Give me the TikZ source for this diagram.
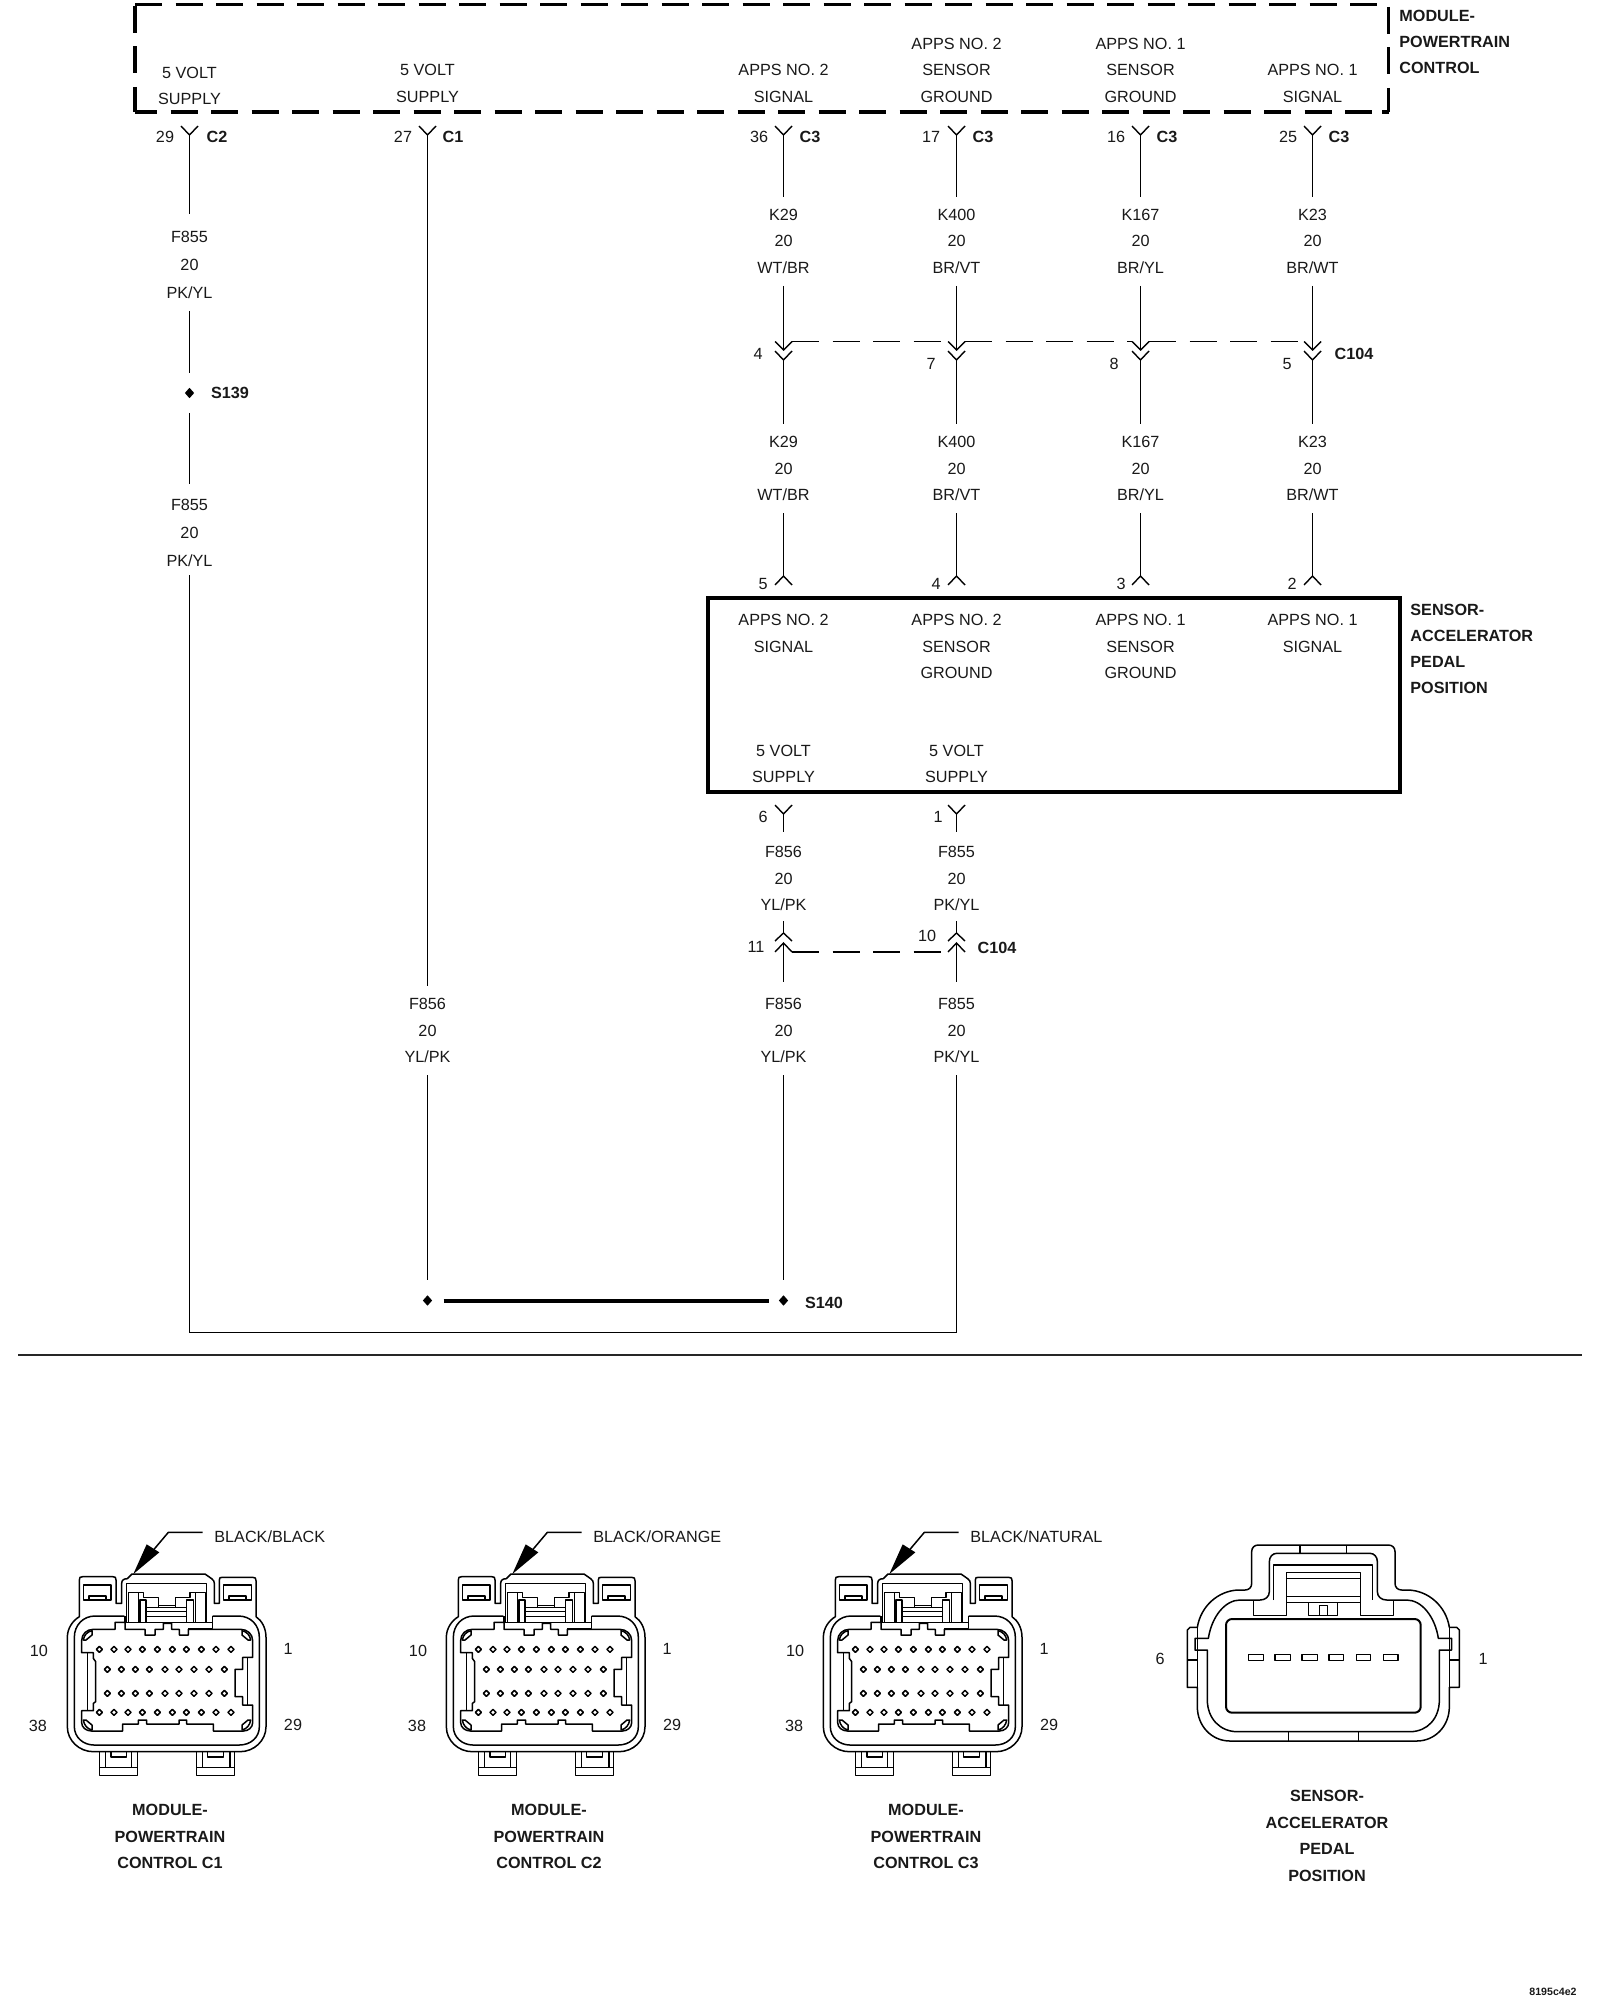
\documentclass[tikz,border=0pt]{standalone}
\usepackage{fontspec}
\setmainfont{Liberation Sans}
\usetikzlibrary{calc,shapes.geometric}
\tikzset{
  wire/.style={line width=0.7pt,black},
  conline/.style={line width=0.75pt,black},
  heavy/.style={line width=1.8pt,black},
  modbox/.style={line width=1.7pt,black,dash pattern=on 13.5pt off 6.75pt},
  cdash/.style={line width=0.75pt,black,dash pattern=on 13.5pt off 6.75pt},
  txt/.style={font=\fontsize{8.1}{13.25}\selectfont,inner sep=0pt,align=center,text=black!90,yshift=-0.4pt},
  lab/.style={txt,inner xsep=2pt,inner ysep=6pt},
  labwide/.style={lab,font=\fontsize{8.1}{14}\selectfont},
  boldl/.style={font=\fontsize{8.1}{13}\selectfont\bfseries,inner sep=0pt,align=left,anchor=west,text=black!90},
  boldc/.style={font=\fontsize{8.1}{13.25}\selectfont\bfseries,inner sep=0pt,align=center,text=black!90},
  dotn/.style={diamond,fill=black,inner sep=0pt,minimum width=4.8pt,minimum height=5.4pt},
}
% top Y pin: coordinate name, x, y of the junction
\newcommand\ypin[3]{%
  \coordinate (#1) at (#2,#3);
  \draw[wire] (#2-8.5,#3-9) -- (#1) -- (#2+8.5,#3-9);}
% pin that opens upward (hat): tip at y
\newcommand\hatpin[3]{%
  \coordinate (#1) at (#2,#3);
  \draw[wire] (#2-8.5,#3+9) -- (#1) -- (#2+8.5,#3+9);}
% one APPS column
\newcommand\appscol[4]{%
  \ypin{#1-t}{#2}{135}
  \node[lab] (#1-a) at (#2,240.5) {#3\\20\\#4};
  \draw[wire] (#1-t) -- (#1-a.north);
  \coordinate (#1-u) at (#2,350);
  \coordinate (#1-ul) at (#2-8.5,341.5);
  \coordinate (#1-ur) at (#2+8.5,341.5);
  \draw[wire] (#1-ul) -- (#1-u) -- (#1-ur);
  \draw[wire] (#1-a.south) -- (#1-u);
  \ypin{#1-l}{#2}{360}
  \node[lab] (#1-b) at (#2,468) {#3\\20\\#4};
  \draw[wire] (#1-l) -- (#1-b.north);
  \hatpin{#1-p}{#2}{576}
  \draw[wire] (#1-b.south) -- (#1-p);}
% PCM connector in 3x zoom coordinates
\newcommand\pcmconn[1]{%
\begin{scope}[shift={(#1,1500)},x=0.16667pt,y=-0.16667pt,conline,line join=round]
  % outer body with tabs and latch
  \draw (148,240) .. controls (148,232) and (150,230) .. (158,230) -- (248,230)
    .. controls (256,230) and (258,232) .. (258,240) -- (258,310) -- (275,310) -- (275,250)
    .. controls (275,240) and (282,236) .. (292,236) -- (306,222) -- (525,222) -- (545,236)
    .. controls (551,240) and (553,245) .. (553,250) -- (553,310) -- (568,310) -- (568,240)
    .. controls (568,232) and (570,232) .. (578,232) -- (668,232)
    .. controls (676,232) and (678,234) .. (678,242) -- (678,350)
    .. controls (696,362) and (708,385) .. (708,412) -- (708,680)
    .. controls (708,722) and (672,755) .. (630,755) -- (190,755)
    .. controls (148,755) and (112,722) .. (112,680) -- (112,412)
    .. controls (112,385) and (128,362) .. (148,350) -- cycle;
  % inner body ring
  \draw (283,348) -- (195,348) .. controls (160,348) and (133,375) .. (133,412) -- (133,680)
    .. controls (133,712) and (160,735) .. (192,735) -- (628,735)
    .. controls (662,735) and (688,712) .. (688,680) -- (688,412)
    .. controls (688,375) and (662,348) .. (625,348) -- (548,348);
  % cavity
  \draw (155,422) .. controls (155,402) and (170,388) .. (190,388) -- (255,388) -- (255,367) -- (285,367) -- (285,388)
    -- (345,388) -- (345,405) -- (375,405) -- (375,388) -- (400,388) -- (400,370) -- (425,370) -- (425,388)
    -- (448,388) -- (448,405) -- (475,405) -- (475,388) -- (632,388)
    .. controls (652,388) and (668,402) .. (668,422) -- (668,472) -- (638,472) -- (638,508) -- (615,508)
    -- (615,590) -- (638,590) -- (638,615) -- (668,615) -- (668,668)
    .. controls (668,682) and (655,693) .. (640,693) -- (550,693) -- (550,672) -- (470,672) -- (470,660)
    -- (447,660) -- (447,672) -- (350,672) -- (350,660) -- (325,660) -- (325,672) -- (278,672) -- (278,693)
    -- (185,693) .. controls (168,693) and (155,682) .. (155,668) -- (155,632) -- (190,632) -- (190,610)
    -- (197,605) -- (197,485) -- (190,475) -- (190,458) -- (155,458) -- cycle;
  \draw (172,458) -- (172,632);
  \draw (652,472) -- (652,615);
  \draw (285,367) -- (548,367) -- (548,348);
  \draw (285,367) -- (285,348);
  \draw (475,385) -- (548,385) -- (548,367);
  % corner keys
  \draw (160,420) .. controls (162,405) and (172,395) .. (186,392) -- (186,405) -- (168,420) -- cycle;
  \draw (662,420) .. controls (660,405) and (650,395) .. (636,392) -- (636,405) -- (654,420) -- cycle;
  \draw (160,660) .. controls (162,675) and (172,687) .. (186,690) -- (186,675) -- (168,660) -- cycle;
  \draw (662,660) .. controls (660,675) and (650,687) .. (636,690) -- (636,675) -- (654,660) -- cycle;
  % latch interior
  \draw (289,367) -- (289,250) -- (530,250) -- (530,367);
  \draw (295,367) -- (295,278) -- (325,278) -- (325,367);
  \draw (325,278) -- (340,278) -- (340,293) -- (385,293) -- (385,323) -- (437,323) -- (437,293) -- (480,293) -- (480,278) -- (497,278);
  \draw (497,367) -- (497,278) -- (527,278) -- (527,367);
  \draw (385,317) -- (437,317);
  \draw (330,367) -- (330,300) -- (348,300) -- (348,367);
  \draw (470,367) -- (470,300) -- (490,300) -- (490,367);
  \draw (348,322) -- (470,322);
  \draw (348,335) -- (470,335);
  \draw (348,350) -- (470,350);
  % upper tabs
  \draw (160,300) -- (160,255) -- (243,255) -- (243,300) -- cycle;
  \draw (177,300) -- (177,288) -- (228,288) -- (228,300);
  \draw (580,300) -- (580,255) -- (665,255) -- (665,300) -- cycle;
  \draw (597,300) -- (597,288) -- (648,288) -- (648,300);
  % lower tabs
  \draw (208,755) -- (208,826) -- (322,826) -- (322,755);
  \draw (208,802) -- (322,802);
  \draw (226,755) -- (226,802);
  \draw (305,755) -- (305,802);
  \draw (243,755) -- (243,771) -- (290,771) -- (290,755);
  \draw (500,755) -- (500,826) -- (614,826) -- (614,755);
  \draw (500,802) -- (614,802);
  \draw (517,755) -- (517,802);
  \draw (600,755) -- (600,802);
  \draw (532,755) -- (532,771) -- (580,771) -- (580,755);
  % terminals
  \foreach \py in {448,637}
    \foreach \px in {208,252,294,337,382,427,469,514,558,603}
      \draw (\px-9,\py) -- (\px,\py-9) -- (\px+9,\py) -- (\px,\py+9) -- cycle;
  \foreach \py in {508,580}
    \foreach \px in {232,274,316,358,405,447,492,537,583}
      \draw (\px-9,\py) -- (\px,\py-9) -- (\px+9,\py) -- (\px,\py+9) -- cycle;
  % leader with arrow
  \draw (518,97) -- (415,97) -- (345,180);
  \fill[black] (310,222) -- (350,133) -- (388,157) -- cycle;
\end{scope}}
\begin{document}
\begin{tikzpicture}[x=0.5pt,y=-0.5pt]
\useasboundingbox (0,0) rectangle (1600,2000);
\def\cA{189.5}\def\cB{427.5}\def\cC{783.5}\def\cD{956.5}\def\cE{1140.5}\def\cF{1312.5}
% ---- module box (dashed)
\coordinate (mtl) at (135,4.5);
\coordinate (mtr) at (1388.5,4.5);
\coordinate (mbl) at (135,112);
\coordinate (mbr) at (1388.5,112);
\draw[modbox] (mtl) -- (1380,4.5);
\draw[modbox,dash phase=19.5pt] (mtl) -- (mbl);
\draw[modbox,dash phase=2.5pt] (mbl) -- (1376,112);
\draw[modbox] (1388.5,7) -- (mbr);
\draw[heavy,line width=1.7pt] (1382,112) -- (mbr);
% ---- module texts
\node[txt] (t5a) at (\cA,85) {5 VOLT\\SUPPLY};
\node[txt] (t5b) at (\cB,82.5) {5 VOLT\\SUPPLY};
\node[txt] (t2s) at (\cC,82.5) {APPS NO. 2\\SIGNAL};
\node[txt] (t2g) at (\cD,69.5) {APPS NO. 2\\SENSOR\\GROUND};
\node[txt] (t1g) at (\cE,69.5) {APPS NO. 1\\SENSOR\\GROUND};
\node[txt] (t1s) at (\cF,82.5) {APPS NO. 1\\SIGNAL};
\node[boldl] (tmod) at (1399,41.7) {MODULE-\\POWERTRAIN\\CONTROL};
% ---- APPS columns
\appscol{a}{\cC}{K29}{WT/BR}
\appscol{b}{\cD}{K400}{BR/VT}
\appscol{c}{\cE}{K167}{BR/YL}
\appscol{d}{\cF}{K23}{BR/WT}
\draw[cdash] (a-ur) -- (b-ul);
\draw[cdash] (b-ur) -- (c-ul);
\draw[cdash] (c-ur) -- (d-ul);
% pin numbers, upper
\foreach \nm/\px/\py/\tx in {n29/165/136/29,n27/403/136/27,n36/759/136/36,n17/931/136/17,n16/1116/136/16,n25/1288/136/25,
  m4/758/353/4,m7/931/363/7,m8/1114/363/8,m5/1287/363/5,
  q5/763/583/5,q4/936/583/4,q3/1121/583/3,q2/1292/583/2,
  r6/763/816/6,r1/938/816/1,r11/756/946/11,r10/927/935/10}
  \node[txt] (\nm) at (\px,\py) {\tx};
\foreach \nm/\px/\py/\tx in {k2/217/137/C2,k1/453/137/C1,k3a/810/137/C3,k3b/983/137/C3,k3c/1167/137/C3,k3d/1339/137/C3,
  kc1/1354/354/C104,kc2/997/948/C104,ks1/230/393/S139,ks2/824/1303/S140}
  \node[boldc] (\nm) at (\px,\py) {\tx};
% ---- sensor box
\node[draw=black,line width=1.9pt,inner sep=0pt,minimum width=346pt,minimum height=97pt] (sbox) at (1054,695) {};
\node[txt] (s2s) at (\cC,632.5) {APPS NO. 2\\SIGNAL};
\node[txt] (s2g) at (\cD,646) {APPS NO. 2\\SENSOR\\GROUND};
\node[txt] (s1g) at (\cE,646) {APPS NO. 1\\SENSOR\\GROUND};
\node[txt] (s1s) at (\cF,632.5) {APPS NO. 1\\SIGNAL};
\node[txt] (s5a) at (\cC,763) {5 VOLT\\SUPPLY};
\node[txt] (s5b) at (\cD,763) {5 VOLT\\SUPPLY};
\node[boldl] (tsen) at (1410,648.5) {SENSOR-\\ACCELERATOR\\PEDAL\\POSITION};
% ---- left feeds
\ypin{e-t}{\cA}{135}
\node[labwide] (e-a) at (\cA,264) {F855\\20\\PK/YL};
\draw[wire,shorten >=2.5pt] (e-t) -- (e-a.north);
\node[dotn] (s139) at (\cA,393) {};
\draw[wire,shorten >=7pt] (e-a.south) -- (s139);
\node[labwide] (e-b) at (\cA,532.5) {F855\\20\\PK/YL};
\draw[wire,shorten <=7pt,shorten >=1.5pt] (s139) -- (e-b.north);
\ypin{f-t}{\cB}{135}
\node[lab] (f-a) at (\cB,1030) {F856\\20\\YL/PK};
\draw[wire] (f-t) -- (f-a.north);
% ---- lower sensor pins
\ypin{g-t}{\cC}{814}
\node[lab] (g-a) at (\cC,878) {F856\\20\\YL/PK};
\draw[wire] (g-t) -- (\cC,832);
\ypin{h-t}{\cD}{814}
\node[lab] (h-a) at (\cD,878) {F855\\20\\PK/YL};
\draw[wire] (h-t) -- (\cD,832);
% C104 lower pair
\foreach \n/\x in {g/\cC,h/\cD}{
  \coordinate (\n-up) at (\x,933);
  \draw[wire] (\x,921) -- (\n-up);
  \draw[wire] (\x-8.5,941) -- (\n-up) -- (\x+8.5,941);
  \coordinate (\n-lo) at (\x,943);
  \draw[wire] (\x-8.5,952) -- (\n-lo) -- (\x+8.5,952);
  \draw[wire] (\n-lo) -- (\x,982);
}
\coordinate (g-r) at (\cC+8.5,952);
\coordinate (h-r) at (\cD-8.5,952);
\draw[cdash] (g-r) -- (h-r);
\node[lab] (g-b) at (\cC,1030) {F856\\20\\YL/PK};
\node[lab] (h-b) at (\cD,1030) {F855\\20\\PK/YL};
% ---- splices and return
\node[dotn] (s140a) at (\cB,1300.5) {};
\node[dotn] (s140b) at (\cC,1300.5) {};
\draw[line width=2pt,shorten <=5.5pt,shorten >=4.5pt] (s140a) -- (s140b);
\draw[wire,shorten >=7.5pt] (f-a.south) -- (s140a);
\draw[wire,shorten >=7.5pt] (g-b.south) -- (s140b);
\coordinate (rl) at (\cA,1332.5);
\coordinate (rr) at (\cD,1332.5);
\draw[wire,shorten <=-2pt] (e-b.south) -- (rl) -- (rr) -- (h-b.south);
% ---- separator
\coordinate (sep1) at (18,1355);
\coordinate (sep2) at (1582,1355);
\draw[line width=1pt,black!85] (sep1) -- (sep2);
% ---- connector views
\pcmconn{30}
\pcmconn{409}
\pcmconn{786}
\foreach \nm/\dx/\tx in {x1/0/BLACK\slash BLACK,x2/379/BLACK\slash ORANGE,x3/756/BLACK\slash NATURAL}
  \node[txt,anchor=west] (\nm) at (214+\dx,1536) {\tx};
\foreach \nm/\dx in {v1/0,v2/379,v3/756}{
  \node[txt] (\nm a) at (39+\dx,1650) {10};
  \node[txt] (\nm b) at (288+\dx,1648) {1};
  \node[txt] (\nm c) at (38+\dx,1725) {38};
  \node[txt] (\nm d) at (293+\dx,1724) {29};
}
\node[boldc] (cap1) at (170,1836.5) {MODULE-\\POWERTRAIN\\CONTROL C1};
\node[boldc] (cap2) at (549,1836.5) {MODULE-\\POWERTRAIN\\CONTROL C2};
\node[boldc] (cap3) at (926,1836.5) {MODULE-\\POWERTRAIN\\CONTROL C3};
\node[boldc] (cap4) at (1327,1836) {SENSOR-\\ACCELERATOR\\PEDAL\\POSITION};
\node[txt] (p6) at (1160,1658) {6};
\node[txt] (p1) at (1483,1658) {1};
\node[font=\fontsize{5.3}{6}\selectfont\bfseries,inner sep=0pt,text=black!90] (code) at (1553,1992) {8195c4e2};
% ---- sensor connector view
\begin{scope}[shift={(1160,1520)},x=0.16667pt,y=-0.16667pt,conline,line join=round]
  \draw (275,95) .. controls (275,83) and (283,75) .. (295,75) -- (685,75)
    .. controls (697,75) and (705,83) .. (705,95) -- (705,190)
    .. controls (705,202) and (713,210) .. (725,210) -- (745,210)
    .. controls (805,212) and (858,258) .. (868,322) -- (890,322) -- (898,330) -- (898,502) -- (868,502)
    -- (868,560) .. controls (868,618) and (825,663) .. (770,663) -- (210,663)
    .. controls (155,663) and (112,618) .. (112,560) -- (112,502) -- (82,502) -- (82,330) -- (90,322) -- (112,322)
    .. controls (122,258) and (175,212) .. (235,210) -- (255,210)
    .. controls (267,210) and (275,202) .. (275,190) -- cycle;
  \draw (82,420) -- (112,420);
  \draw (868,420) -- (898,420);
  \draw (112,322) -- (112,502);
  \draw (868,322) -- (868,502);
  \draw (142,390) -- (142,540) .. controls (142,595) and (180,635) .. (232,635) -- (750,635)
    .. controls (802,635) and (838,595) .. (838,540) -- (838,390) -- (875,390) -- (875,355) -- (835,355)
    .. controls (825,290) and (785,240) .. (740,240) -- (680,240)
    .. controls (664,240) and (652,230) .. (652,215) -- (652,125)
    .. controls (652,110) and (642,100) .. (630,100) -- (350,100)
    .. controls (338,100) and (328,110) .. (328,125) -- (328,215)
    .. controls (328,230) and (316,240) .. (300,240) -- (240,240)
    .. controls (195,240) and (155,290) .. (145,355) -- (105,355) -- (105,390) -- cycle;
  \draw (420,75) -- (420,100);
  \draw (560,75) -- (560,100);
  \draw (385,635) -- (385,663);
  \draw (595,635) -- (595,663);
  \draw (340,240) -- (340,135) -- (638,135) -- (638,240);
  \draw (280,240) -- (280,287) -- (380,287) -- (380,158) -- (602,158) -- (602,287) -- (700,287) -- (700,240);
  \draw (380,175) -- (602,175);
  \draw (380,230) -- (602,230);
  \draw (380,247) -- (602,247);
  \draw (445,247) -- (445,287) -- (533,287) -- (533,247);
  \draw (478,287) -- (478,257) -- (502,257) -- (502,287);
  \draw[line width=1pt,rounded corners=3pt] (198,297) rectangle (782,578);
  \foreach \ax/\bx in {265/311,345/392,426/473,507/551,589/632,670/714}
    \draw[line width=0.8pt] (\ax,404) rectangle (\bx,422);
\end{scope}
\end{tikzpicture}
\end{document}
